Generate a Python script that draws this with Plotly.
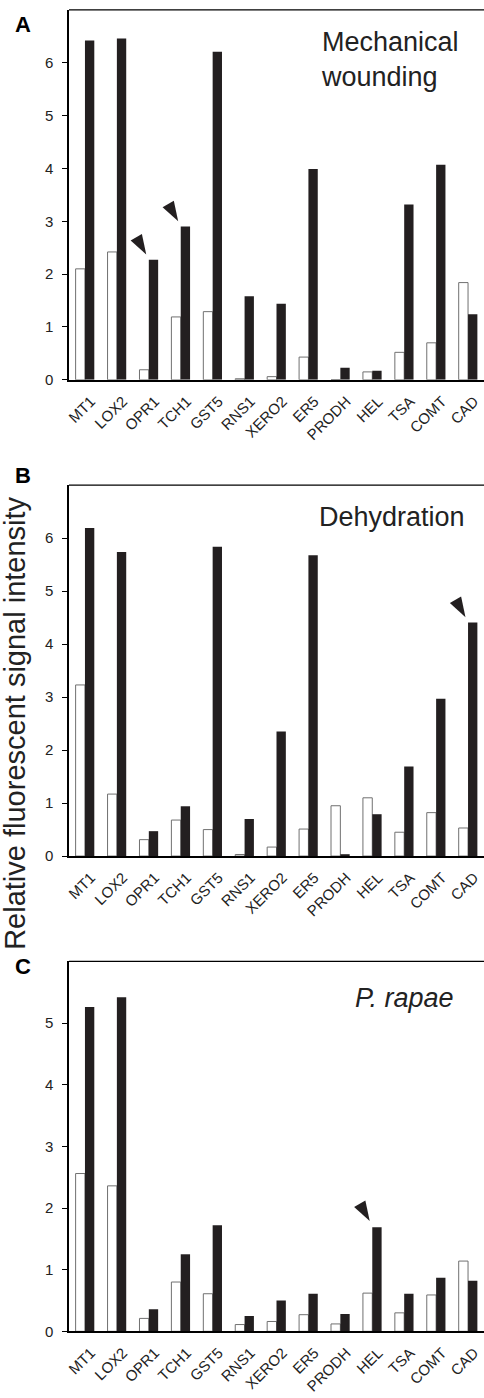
import plotly.graph_objects as go

# ---------------- data ----------------
genes = ["MT1", "LOX2", "OPR1", "TCH1", "GST5", "RNS1", "XERO2",
         "ER5", "PRODH", "HEL", "TSA", "COMT", "CAD"]

wound_control = [2.10, 2.42, 0.19, 1.19, 1.29, 0.02, 0.06, 0.43, 0.00, 0.15, 0.52, 0.70, 1.84]
wound_treated = [6.42, 6.46, 2.27, 2.90, 6.21, 1.58, 1.44, 3.99, 0.23, 0.17, 3.32, 4.07, 1.24]

dehyd_control = [3.23, 1.17, 0.31, 0.68, 0.50, 0.03, 0.17, 0.51, 0.95, 1.10, 0.45, 0.82, 0.53]
dehyd_treated = [6.19, 5.74, 0.47, 0.94, 5.84, 0.70, 2.35, 5.68, 0.03, 0.79, 1.69, 2.97, 4.41]

rapae_control = [2.56, 2.36, 0.21, 0.80, 0.61, 0.11, 0.16, 0.27, 0.12, 0.62, 0.30, 0.59, 1.14]
rapae_treated = [5.26, 5.42, 0.36, 1.25, 1.72, 0.25, 0.50, 0.61, 0.28, 1.69, 0.61, 0.87, 0.82]

panel_letters = ["A", "B", "C"]
panel_titles = ["Mechanical<br>wounding", "Dehydration", "<i>P. rapae</i>"]
arrow_genes = [["OPR1", "TCH1"], ["CAD"], ["HEL"]]
y_max = [7, 7, 6]
y_tick_max = [6, 6, 5]
y_title = "Relative fluorescent signal intensity"

controls = [wound_control, dehyd_control, rapae_control]
treated = [wound_treated, dehyd_treated, rapae_treated]

# ---------------- layout geometry (pixels) ----------------
W, H = 484, 1398
L = 69
panels_px = [(10, 382), (488, 861), (967, 1339)]  # (top, bottom)
letter_px = [(13, 25), (13, 478), (13, 972)]      # (left, centre y)
title_px = [(319, 25), (317, 503), (353, 987)]    # (left, top)
FONT = "Liberation Sans, Arial, sans-serif"
BLACK = "#231f20"

def py(px):
    return 1 - px / H

def pxx(px):
    return (px - L) / (W - L)

idx = list(range(len(genes)))
fig = go.Figure()

for p in range(3):
    xa = "x" if p == 0 else f"x{p+1}"
    ya = "y" if p == 0 else f"y{p+1}"
    fig.add_trace(go.Bar(
        x=idx, y=controls[p], xaxis=xa, yaxis=ya,
        marker=dict(color="white", line=dict(color="#707070", width=1)),
        showlegend=False, hoverinfo="skip"))
    fig.add_trace(go.Bar(
        x=idx, y=treated[p], xaxis=xa, yaxis=ya,
        marker=dict(color=BLACK, line=dict(color=BLACK, width=0)),
        showlegend=False, hoverinfo="skip"))
    # arrowheads (tip just above the treated bar)
    ax_x, ax_y = [], []
    for g in arrow_genes[p]:
        i = genes.index(g)
        ax_x.append(i - 0.08)
        ax_y.append(treated[p][i] + 0.1)
    fig.add_trace(go.Scatter(
        x=ax_x, y=ax_y, xaxis=xa, yaxis=ya, mode="markers",
        marker=dict(symbol="arrow", size=21, angle=150, color=BLACK,
                    line=dict(width=0)),
        showlegend=False, hoverinfo="skip", cliponaxis=False))

    top, bot = panels_px[p]
    dom = [py(bot), py(top)]
    xkey = "xaxis" if p == 0 else f"xaxis{p+1}"
    ykey = "yaxis" if p == 0 else f"yaxis{p+1}"
    fig.layout[xkey] = dict(
        domain=[0, 1], anchor=ya, range=[-0.5, len(genes) - 0.5],
        tickvals=idx, ticktext=genes, tickangle=-45,
        tickfont=dict(family=FONT, size=15, color="#222"),
        ticklabelstandoff=5, ticklabelshift=6,
        showline=True, linecolor="black", linewidth=2,
        ticks="", showgrid=False, zeroline=False, fixedrange=True)
    fig.layout[ykey] = dict(
        domain=dom, anchor=xa, range=[0, y_max[p]],
        tickvals=list(range(0, y_tick_max[p] + 1)),
        tickfont=dict(family=FONT, size=15, color="#222"),
        showline=True, linecolor="black", linewidth=1.5,
        ticks="outside", ticklen=5, tickcolor="black", tickwidth=1,
        ticklabelstandoff=6,
        showgrid=False, zeroline=False, fixedrange=True)
    # top frame line
    fig.add_shape(type="line", xref="paper", yref="paper",
                  x0=0, x1=1, y0=dom[1], y1=dom[1],
                  line=dict(color="black", width=1.2))
    # panel letter
    lx, lyc = letter_px[p]
    fig.add_annotation(text=f"<b>{panel_letters[p]}</b>", xref="paper", yref="paper",
                       x=pxx(lx), y=py(lyc), xanchor="left", yanchor="middle",
                       showarrow=False, font=dict(family=FONT, size=22, color="black"))
    # panel title
    tx, ty = title_px[p]
    fig.add_annotation(text=panel_titles[p], xref="paper", yref="paper",
                       x=pxx(tx), y=py(ty), xanchor="left", yanchor="top", align="left",
                       showarrow=False, font=dict(family=FONT, size=27, color="#222"))

# shared y-axis title
fig.add_annotation(text=y_title, xref="paper", yref="paper",
                   x=pxx(15), y=py(728), xanchor="center", yanchor="middle",
                   textangle=-90, showarrow=False,
                   font=dict(family=FONT, size=29, color="#222"))

fig.update_layout(
    width=W, height=H,
    margin=dict(l=L, r=0, t=0, b=0),
    barmode="group", bargap=0.415, bargroupgap=0,
    plot_bgcolor="white", paper_bgcolor="white",
    font=dict(family=FONT),
)

fig.write_html("out.html", config={"displayModeBar": False},
               post_script="document.body.style.margin='0';document.body.style.overflow='hidden';")
